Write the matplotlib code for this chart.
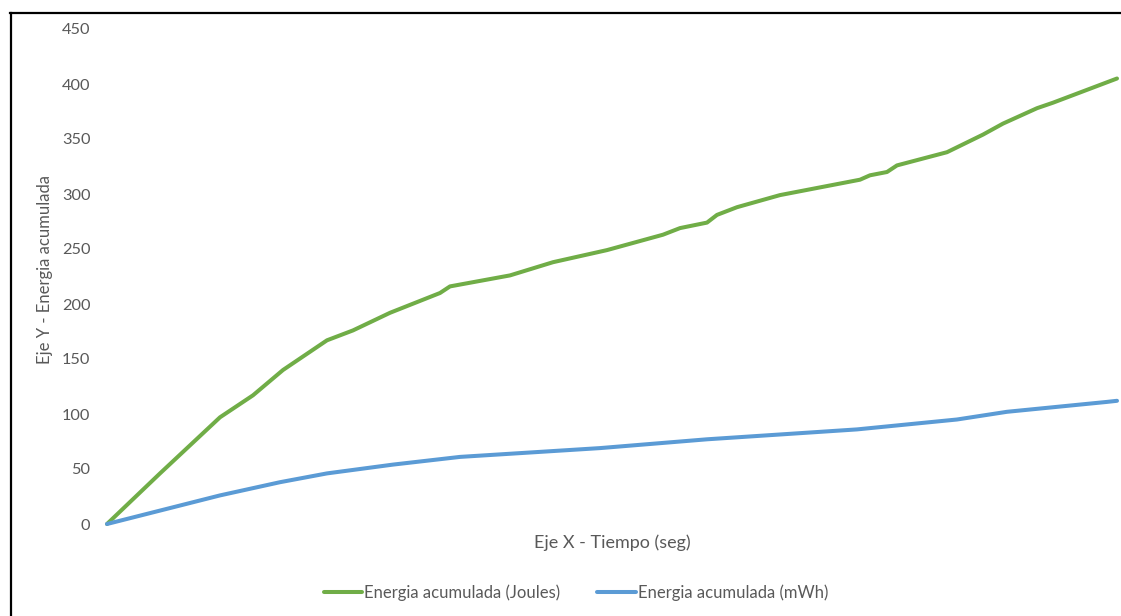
import matplotlib
matplotlib.use("Agg")
import matplotlib.pyplot as plt
from matplotlib.lines import Line2D

# Accumulated energy series (time in seconds, energy values)
tiempo_joules = [0, 53, 113, 146, 176, 220, 246, 283, 333, 343, 403, 446, 500,
                 556, 573, 600, 610, 630, 673, 753, 763, 780, 790, 840, 876,
                 896, 930, 946, 1010]
energia_joules = [0, 46, 97, 117, 140, 167, 176, 192, 210, 216, 226, 238, 249,
                  263, 269, 274, 281, 288, 299, 313, 317, 320, 326, 338, 354,
                  364, 378, 383, 405]

tiempo_mwh = [0, 113, 173, 220, 286, 353, 493, 600, 750, 850, 900, 1000, 1010]
energia_mwh = [0, 26, 38, 46, 54, 61, 69, 77, 86, 95, 102, 111, 112]

y_ticks = [0, 50, 100, 150, 200, 250, 300, 350, 400, 450]

serie_joules = "Energia acumulada (Joules)"
serie_mwh = "Energia acumulada (mWh)"
titulo_x = "Eje X - Tiempo (seg)"
titulo_y = "Eje Y - Energia acumulada"

plt.rcParams["font.family"] = ["Lato", "DejaVu Sans"]

W, H = 1121, 616
fig = plt.figure(figsize=(W / 100, H / 100), dpi=100)
ax = fig.add_axes([107 / W, (H - 524) / H, 1010 / W, 495 / H])

verde = "#70AD47"
azul = "#5B9BD5"
gris = "#595959"

ax.plot(tiempo_joules, energia_joules, color=verde, lw=2.9,
        solid_capstyle="round", label=serie_joules, clip_on=False)
ax.plot(tiempo_mwh, energia_mwh, color=azul, lw=2.9,
        solid_capstyle="round", label=serie_mwh, clip_on=False)

ax.set_xlim(0, 1010)
ax.set_ylim(0, 450)
ax.set_yticks(y_ticks)
ax.set_xticks([])
for s in ax.spines.values():
    s.set_visible(False)
ax.tick_params(axis="y", length=0, pad=12, labelsize=11.8, labelcolor=gris)

fig.text(45 / W, (H - 269) / H, titulo_y, rotation=90, ha="center",
         va="center", fontsize=12, color=gris)
fig.text(612 / W, (H - 543) / H, titulo_x, ha="center", va="center",
         fontsize=13, color=gris)

fig.legend(loc="center", bbox_to_anchor=(576 / W, (H - 593) / H), ncol=2,
           frameon=False, fontsize=12, labelcolor=gris, handlelength=2.3,
           handletextpad=0.15, columnspacing=2.2)

# Chart frame (left and top edges)
fig.add_artist(Line2D([10.5 / W, 10.5 / W], [0, (H - 13) / H],
                      transform=fig.transFigure, color="black", lw=1.6))
fig.add_artist(Line2D([10 / W, 1], [(H - 13) / H, (H - 13) / H],
                      transform=fig.transFigure, color="black", lw=1.6))

fig.savefig("out.png", dpi=100)
